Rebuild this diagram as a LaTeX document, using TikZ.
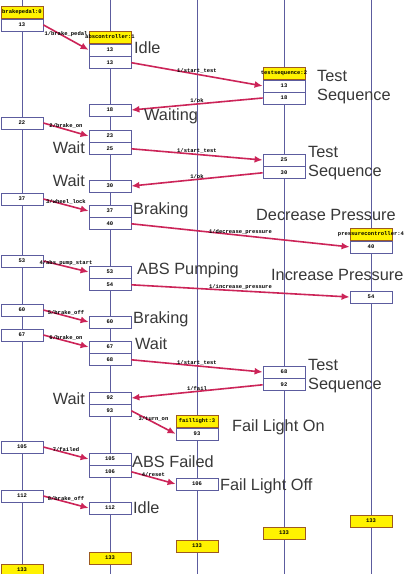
\documentclass[tikz,border=0pt]{standalone}
\usepackage{fontspec}
\setmainfont{Liberation Sans}
\newfontfamily\labelmono{Liberation Mono}
\usetikzlibrary{positioning,arrows.meta}
\definecolor{lifeblue}{HTML}{5C5C9E}
\definecolor{msgred}{HTML}{CC2458}
\definecolor{headfill}{HTML}{FFF200}
\definecolor{headedge}{HTML}{9C5A20}
\definecolor{stategray}{HTML}{383838}
\newcommand{\tinytext}{\labelmono\bfseries\fontsize{5.5}{6}\selectfont}
\newcommand{\statefont}{\fontsize{16.3}{19}\selectfont}
\tikzset{
  lifeline/.style={draw=lifeblue, line width=0.8pt},
  tickbox/.style={draw=lifeblue, fill=white, line width=0.8pt, minimum width=42pt, minimum height=12pt, inner sep=0pt, font=\tinytext},
  headbox/.style={draw=headedge, fill=headfill, line width=1pt, minimum width=42pt, minimum height=12pt, inner sep=0pt},
  msg/.style={draw=msgred, line width=1.6pt, -{Latex[length=8pt,width=7pt]}},
  msglabel/.style={midway, anchor=south, inner sep=0.3pt, font=\tinytext},
  statetext/.style={inner sep=0pt, font=\statefont, text=stategray, align=left}
}

\begin{document}
\begin{tikzpicture}[x=1pt, y=-1pt, node distance=0pt]
\useasboundingbox (0,0) rectangle (411,574);
\fill[white] (0,0) rectangle (411,574);
% lifelines
\foreach \x in {22,110,197,284,371}
  \draw[lifeline] (\x,0) -- (\x,574);

% brake pedal
\node[headbox, label={[font=\tinytext]center:{brakepedal:0}}] (hp) at (22,12) {};
\node[tickbox, below=of hp] (p13) {13};
\node[tickbox] (p22) at (22,123) {22};
\node[tickbox] (p37) at (22,199) {37};
\node[tickbox] (p53) at (22,261) {53};
\node[tickbox] (p60) at (22,310) {60};
\node[tickbox] (p67) at (22,335) {67};
\node[tickbox] (p105) at (22,447) {105};
\node[tickbox] (p112) at (22,496) {112};
\node[headbox, font=\tinytext] (pend) at (22,570) {133};

% abs controller
\node[headbox, label={[font=\tinytext]center:{abscontroller:1}}] (hc) at (110,37) {};
\node[tickbox, below=of hc] (c13a) {13};
\node[tickbox, below=of c13a] (c13b) {13};
\node[tickbox] (c18) at (110,110) {18};
\node[tickbox] (c23) at (110,136) {23};
\node[tickbox, below=of c23] (c25) {25};
\node[tickbox] (c30) at (110,186) {30};
\node[tickbox] (c37) at (110,211) {37};
\node[tickbox, below=of c37] (c40) {40};
\node[tickbox] (c53) at (110,272) {53};
\node[tickbox, below=of c53] (c54) {54};
\node[tickbox] (c60) at (110,322) {60};
\node[tickbox] (c67) at (110,347) {67};
\node[tickbox, below=of c67] (c68) {68};
\node[tickbox] (c92) at (110,398) {92};
\node[tickbox, below=of c92] (c93) {93};
\node[tickbox] (c105) at (110,459) {105};
\node[tickbox, below=of c105] (c106) {106};
\node[tickbox] (c112) at (110,508) {112};
\node[headbox, font=\tinytext] (cend) at (110,558) {133};

% fail light
\node[headbox, label={[font=\tinytext]center:{faillight:3}}] (hl) at (197,421) {};
\node[tickbox, below=of hl] (l93) {93};
\node[tickbox] (l106) at (197,484) {106};
\node[headbox, font=\tinytext] (lend) at (197,546) {133};

% test sequence
\node[headbox, label={[font=\tinytext]center:{testsequence:2}}] (ht) at (284,73) {};
\node[tickbox, below=of ht] (t13) {13};
\node[tickbox] (t18) at (284,98) {18};
\node[tickbox] (t25) at (284,160) {25};
\node[tickbox, below=of t25] (t30) {30};
\node[tickbox] (t68) at (284,372) {68};
\node[tickbox, below=of t68] (t92) {92};
\node[headbox, font=\tinytext] (tend) at (284,533) {133};

% pressure controller
\node[headbox, label={[font=\tinytext]center:{pressurecontroller:4}}] (hv) at (371,234) {};
\node[tickbox, below=of hv] (v40) {40};
\node[tickbox] (v54) at (371,297) {54};
\node[headbox, font=\tinytext] (vend) at (371,521) {133};

% messages
\draw[msg] (p13.east) -- node[msglabel] {1/brake\_pedal} (c13a.west);
\draw[msg] (c13b.east) -- node[msglabel] {1/start\_test} (t13.west);
\draw[msg] (t18.west) -- node[msglabel] {1/ok} (c18.east);
\draw[msg] (p22.east) -- node[msglabel] {2/brake\_on} (c23.west);
\draw[msg] (c25.east) -- node[msglabel] {1/start\_test} (t25.west);
\draw[msg] (t30.west) -- node[msglabel] {1/ok} (c30.east);
\draw[msg] (p37.east) -- node[msglabel] {3/wheel\_lock} (c37.west);
\draw[msg] (c40.east) -- node[msglabel] {1/decrease\_pressure} (v40.west);
\draw[msg] (p53.east) -- node[msglabel] {4/abs\_pump\_start} (c53.west);
\draw[msg] (c54.east) -- node[msglabel] {1/increase\_pressure} (v54.west);
\draw[msg] (p60.east) -- node[msglabel] {5/brake\_off} (c60.west);
\draw[msg] (p67.east) -- node[msglabel] {6/brake\_on} (c67.west);
\draw[msg] (c68.east) -- node[msglabel] {1/start\_test} (t68.west);
\draw[msg] (t92.west) -- node[msglabel] {1/fail} (c92.east);
\draw[msg] (c93.east) -- node[msglabel] {3/turn\_on} (l93.west);
\draw[msg] (p105.east) -- node[msglabel] {7/failed} (c105.west);
\draw[msg] (c106.east) -- node[msglabel] {4/reset} (l106.west);
\draw[msg] (p112.east) -- node[msglabel] {8/brake\_off} (c112.west);

% states
\node[statetext, anchor=west] (s1) at (134,48) {Idle};
\node[statetext, anchor=west] (s2) at (317,87) {Test\\Sequence};
\node[statetext, anchor=west] (s3) at (144,116) {Waiting};
\node[statetext, anchor=east] (s4) at (85,148) {Wait};
\node[statetext, anchor=west] (s5) at (308,163) {Test\\Sequence};
\node[statetext, anchor=east] (s6) at (85,181) {Wait};
\node[statetext, anchor=west] (s7) at (133,210) {Braking};
\node[statetext, anchor=west] (s8) at (256,215) {Decrease Pressure};
\node[statetext, anchor=west] (s9) at (137,270) {ABS Pumping};
\node[statetext, anchor=west] (s10) at (271,275) {Increase Pressure};
\node[statetext, anchor=west] (s11) at (133,319) {Braking};
\node[statetext, anchor=west] (s12) at (135,344) {Wait};
\node[statetext, anchor=west] (s13) at (308,376) {Test\\Sequence};
\node[statetext, anchor=east] (s14) at (85,399) {Wait};
\node[statetext, anchor=west] (s15) at (232,427) {Fail Light On};
\node[statetext, anchor=west] (s16) at (132,462) {ABS Failed};
\node[statetext, anchor=west] (s17) at (220,486) {Fail Light Off};
\node[statetext, anchor=west] (s18) at (133,508) {Idle};
\end{tikzpicture}
\end{document}
